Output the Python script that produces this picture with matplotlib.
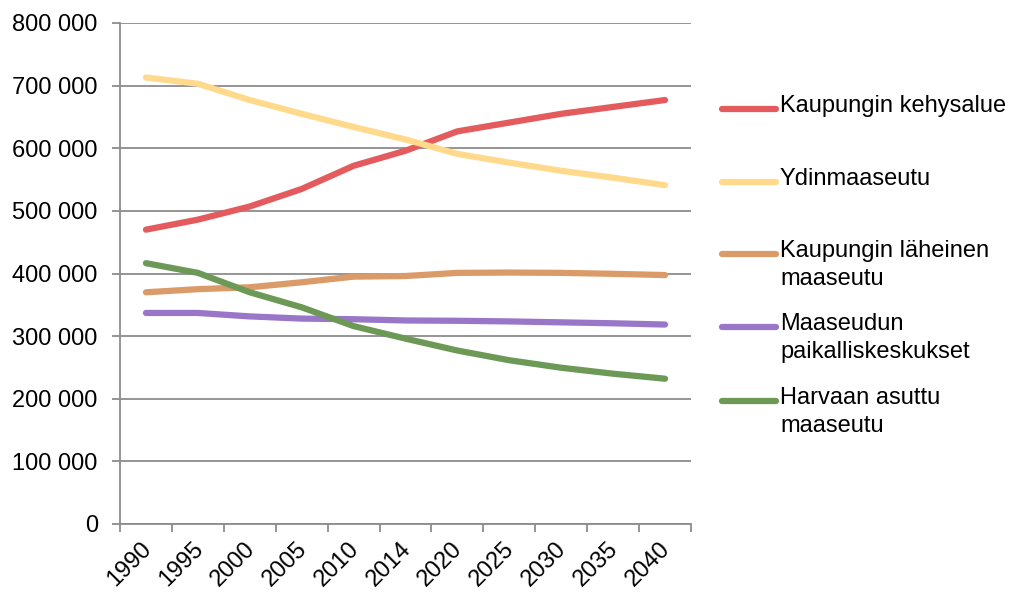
import matplotlib
matplotlib.use("Agg")
import matplotlib.pyplot as plt
from matplotlib.lines import Line2D
from matplotlib.ticker import FuncFormatter, MultipleLocator, FixedLocator
import matplotlib.transforms as mtransforms

plt.rcParams['font.family'] = ['Liberation Sans', 'DejaVu Sans']

years = ['1990', '1995', '2000', '2005', '2010', '2014',
         '2020', '2025', '2030', '2035', '2040']

kehysalue = [470000, 486000, 507000, 535000, 572000, 596000,
             627000, 641000, 655000, 666000, 677000]
ydinmaaseutu = [713000, 703000, 677000, 655000, 634000, 614000,
                591000, 577000, 564000, 553000, 541000]
laheinen = [370000, 375000, 378000, 386000, 395000, 396000,
            401000, 401500, 401000, 399500, 397500]
paikalliskeskukset = [337000, 337000, 331500, 328000, 327000, 325000,
                      324500, 323500, 322000, 320500, 318500]
harvaan = [416500, 401000, 370000, 346000, 316000, 296000,
           277000, 261500, 249500, 240000, 232000]

series = [
    ("Kaupungin kehysalue", kehysalue, "#E35B5D"),
    ("Ydinmaaseutu", ydinmaaseutu, "#FFDA8C"),
    ("Kaupungin läheinen\nmaaseutu", laheinen, "#DA9B69"),
    ("Maaseudun\npaikalliskeskukset", paikalliskeskukset, "#9A76C9"),
    ("Harvaan asuttu\nmaaseutu", harvaan, "#6C9956"),
]

W, H = 1019, 592
fig = plt.figure(figsize=(W / 100, H / 100), dpi=100)
ax = fig.add_axes([120 / W, 1 - 524 / H, (691 - 120) / W, (524 - 23) / H])

x = list(range(len(years)))
for label, vals, color in series:
    ax.plot(x, vals, color=color, lw=4.5, solid_capstyle='round',
            solid_joinstyle='round', zorder=3)

ax.set_xlim(-0.5, len(years) - 0.5)
ax.set_ylim(0, 800000)
ax.yaxis.set_major_locator(MultipleLocator(100000))
ax.yaxis.set_major_formatter(FuncFormatter(
    lambda v, p: f"{int(v):,}".replace(",", " ")))
ax.grid(axis='y', color='#8C8C8C', lw=1.3, zorder=1)

ax.set_xticks(x)
ax.set_xticklabels(years, rotation=45, ha='right', rotation_mode='anchor')
ax.xaxis.set_minor_locator(FixedLocator([i - 0.5 for i in range(len(years) + 1)]))
ax.tick_params(axis='x', which='major', length=0, pad=10, labelsize=17)
ax.tick_params(axis='x', which='minor', length=6, width=1.3, color='#8C8C8C')
ax.tick_params(axis='y', length=5.5, width=1.3, color='#8C8C8C', labelsize=17, pad=10.5)
offset = mtransforms.ScaledTranslation(-6 / 100, 0, fig.dpi_scale_trans)
for lbl in ax.get_xticklabels():
    lbl.set_transform(lbl.get_transform() + offset)

for side in ['top', 'right']:
    ax.spines[side].set_visible(False)
for side in ['left', 'bottom']:
    ax.spines[side].set_color('#8C8C8C')
    ax.spines[side].set_linewidth(1.3)

# Legend drawn at the right of the plot area
legend_y = [109, 182, 254, 327, 401]
for (label, vals, color), yy in zip(series, legend_y):
    fy = 1 - yy / H
    fig.add_artist(Line2D([722 / W, 776 / W], [fy, fy], color=color, lw=4.5,
                          solid_capstyle='round'))
    fig.text(780 / W, 1 - (yy - 14) / H, label, fontsize=17, va='top',
             ha='left', linespacing=1.37)

fig.savefig("out.png", dpi=100)
